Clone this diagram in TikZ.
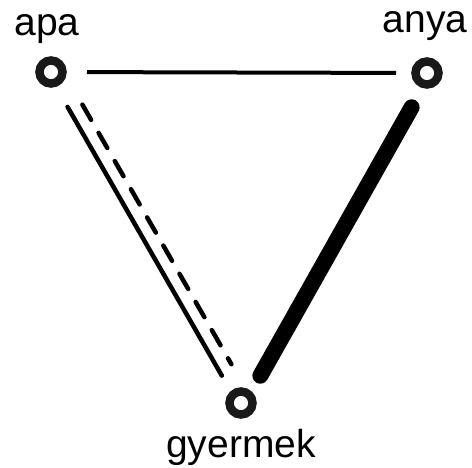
\documentclass[tikz,border=0pt]{standalone}
\usepackage{fontspec}
\setmainfont{Liberation Sans}

\tikzset{
    ring/.style={draw=black!90, circle, line width=8.5pt, minimum size=23pt, inner sep=0pt, outer sep=0pt},
    lbl/.style={font=\fontsize{39}{44}\selectfont, inner sep=0pt, anchor=base},
    toplink/.style={line width=4pt},
    thinlink/.style={line width=4.5pt, line cap=round},
    dashlink/.style={line width=4.5pt, line cap=round, dash pattern=on 17.5pt off 15pt},
    thicklink/.style={line width=16pt, line cap=round}
}

\begin{document}
\begin{tikzpicture}[x=1pt, y=-1pt]
    \useasboundingbox (0,0) rectangle (472,467);

    % Csomopontok
    \node[ring] (apa) at (51,72) {};
    \node[ring] (anya) at (427,73) {};
    \node[ring] (gyermek) at (241,403) {};

    % Feliratok
    \node[lbl] (apatxt) at (47,35) {apa};
    \node[lbl] (anyatxt) at (425,32) {anya};
    \node[lbl] (gyermektxt) at (241,457) {gyermek};

    % Kapcsolatok
    \draw[toplink, shorten <=24.5pt, shorten >=19.5pt] (apa) -- (anya);
    \draw[thicklink, shorten <=37.4pt, shorten >=33.3pt]
        ([xshift=3pt, yshift=-1.7pt]anya.center) -- ([xshift=3pt, yshift=-1.7pt]gyermek.center);
    \draw[thinlink, shorten <=38.5pt, shorten >=33.3pt]
        ([xshift=-2.6pt, yshift=-1.5pt]apa.center) -- ([xshift=-2.6pt, yshift=-1.5pt]gyermek.center);
    \draw[dashlink, shorten <=44pt, shorten >=38.4pt]
        ([xshift=9.5pt, yshift=5.5pt]apa.center) -- ([xshift=9.5pt, yshift=5.5pt]gyermek.center);
\end{tikzpicture}
\end{document}
